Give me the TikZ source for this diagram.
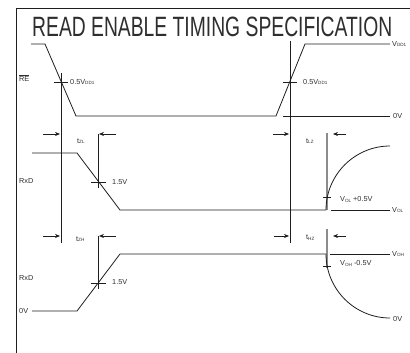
\documentclass[tikz,border=0pt]{standalone}
\usepackage{fontspec}
\usepackage{graphicx}
\setmainfont{Liberation Sans}
\usetikzlibrary{arrows.meta}
\definecolor{ink}{HTML}{1E1E1E}
\definecolor{txt}{HTML}{2E2E2E}
\newcommand{\lsub}[1]{\raisebox{-0.4pt}{\fontsize{4.6}{5}\selectfont #1}}
\begin{document}
\begin{tikzpicture}[x=1pt,y=-1pt,
  wave/.style={draw=ink,line width=0.8pt,line join=miter},
  guide/.style={draw=ink,line width=0.7pt},
  greyline/.style={draw=black!45,line width=1.3pt},
  lbl/.style={font=\fontsize{7.3}{8}\selectfont,text=txt,inner sep=0pt,anchor=west},
  dimarrow/.style={draw=ink,line width=0.7pt,-{Stealth[length=5pt,width=4pt]}}]
\useasboundingbox (0,0) rectangle (410,353);
% frame
\draw[guide] (16,353) -- (16,8) -- (410,8);
% title
\node[anchor=south west,inner sep=0pt,text=txt] (title) at (32,37)
  {\resizebox{360pt}{19.5pt}{READ ENABLE TIMING SPECIFICATION}};
% RE waveform
\draw[wave] (31,44) -- (45,44) -- (76,116) -- (276,116) -- (305,44) -- (390,44);
\draw[wave] (283,116) -- (390,116);
\draw[guide] (61,73) -- (61,243);
\draw[guide] (290,41) -- (290,243);
\draw[guide] (54,82) -- (68,82);
\draw[guide] (283,82) -- (297,82);
\node[lbl] (re) at (19,78) {$\overline{\mbox{RE}}$};
\node[lbl] (half1) at (70,82) {0.5V\lsub{DD1}};
\node[lbl] (half2) at (303,82) {0.5V\lsub{DD1}};
\node[lbl] (vdd) at (392,44) {V\lsub{DD1}};
\node[lbl] (zero1) at (393,116) {0V};
% RxD (tZL / tLZ)
\draw[wave] (32,153) -- (77,153) -- (120,210) -- (326,210);
\draw[guide] (98,134) -- (98,188);
\draw[guide] (91,182) -- (106,182);
\coordinate (a1s) at (43,134); \coordinate (a1e) at (60,134);
\coordinate (a2s) at (116,134); \coordinate (a2e) at (99,134);
\draw[dimarrow] (a1s) -- (a1e);
\draw[dimarrow] (a2s) -- (a2e);
\node[lbl] (tzl) at (77,141) {t\lsub{ZL}};
\node[lbl] (rxd1) at (19,181) {RxD};
\node[lbl] (v15a) at (112,182) {1.5V};
\coordinate (a3s) at (273,134); \coordinate (a3e) at (289,134);
\coordinate (a4s) at (346,134); \coordinate (a4e) at (333,134);
\draw[dimarrow] (a3s) -- (a3e);
\draw[dimarrow] (a4s) -- (a4e);
\node[lbl] (tlz) at (306,141) {t\lsub{LZ}};
\draw[greyline] (327,133) -- (327,210);
\draw[guide] (323,197) -- (331,197);
\draw[wave] (326,210) .. controls (326,174.7) and (354.7,146) .. (390,146);
\draw[wave] (331,210) -- (390,210);
\node[lbl] (vol5) at (340,199.5) {V\lsub{OL} +0.5V};
\node[lbl] (vol) at (392,210) {V\lsub{OL}};
% RxD (tZH / tHZ)
\draw[wave] (32,311) -- (77,311) -- (120,254) -- (326,254);
\draw[guide] (98,236) -- (98,289);
\draw[guide] (91,283) -- (106,283);
\coordinate (b1s) at (43,236); \coordinate (b1e) at (60,236);
\coordinate (b2s) at (116,236); \coordinate (b2e) at (99,236);
\draw[dimarrow] (b1s) -- (b1e);
\draw[dimarrow] (b2s) -- (b2e);
\node[lbl] (tzh) at (76,239) {t\lsub{ZH}};
\node[lbl] (rxd2) at (19,278) {RxD};
\node[lbl] (zero2) at (19,310.5) {0V};
\node[lbl] (v15b) at (112,282.5) {1.5V};
\coordinate (b3s) at (274,236); \coordinate (b3e) at (289,236);
\coordinate (b4s) at (346,236); \coordinate (b4e) at (333,236);
\draw[dimarrow] (b3s) -- (b3e);
\draw[dimarrow] (b4s) -- (b4e);
\node[lbl] (thz) at (306,237.5) {t\lsub{HZ}};
\draw[greyline] (327,229) -- (327,268);
\draw[guide] (323,266) -- (331,266);
\draw[wave] (330,254) -- (390,254);
\draw[wave] (326,254) .. controls (326,289.3) and (354.7,318) .. (390,318);
\node[lbl] (voh5) at (340,263.5) {V\lsub{OH} -0.5V};
\node[lbl] (voh) at (392,254) {V\lsub{OH}};
\node[lbl] (zero3) at (393,318.5) {0V};
\end{tikzpicture}
\end{document}
